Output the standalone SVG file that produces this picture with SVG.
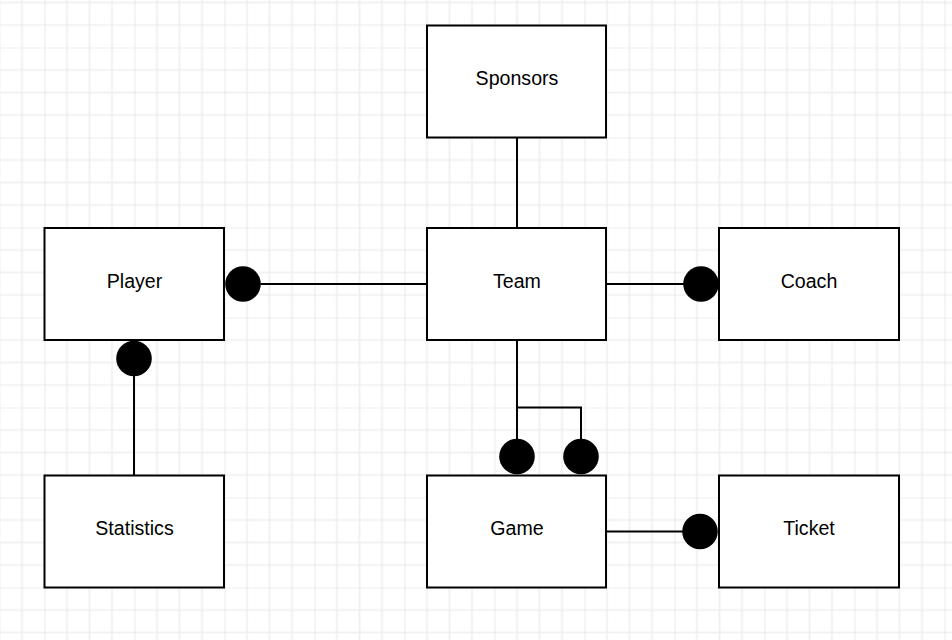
<svg xmlns="http://www.w3.org/2000/svg" width="952" height="640" viewBox="0 0 952 640">
<defs>
<pattern id="grid" patternUnits="userSpaceOnUse" x="44.5" y="47.5" width="90" height="90">
<path d="M22.5 0V90M45 0V90M67.5 0V90M0 22.5H90M0 45H90M0 67.5H90" stroke="#eeeeee" stroke-width="1.6" fill="none"/>
<path d="M0 0V90M0 0H90" stroke="#dddddd" stroke-width="1.2" fill="none"/>
</pattern>
<style>
.box{fill:#fff;stroke:#000;stroke-width:2}
.lbl{font-family:"Liberation Sans",Arial,sans-serif;font-size:19.6px;fill:#000;text-anchor:middle}
.ln{fill:none;stroke:#000;stroke-width:2}
.dot{fill:#000}
</style>
</defs>
<rect width="952" height="640" fill="#fff"/>
<rect width="952" height="640" fill="url(#grid)"/>
<g id="connectors">
<path class="ln" d="M517 137V228"/>
<path class="ln" d="M260.5 284H427"/>
<circle class="dot" cx="243" cy="284" r="17.8"/>
<path class="ln" d="M606 284H701"/>
<circle class="dot" cx="701" cy="284" r="17.8"/>
<path class="ln" d="M134 340V475"/>
<circle class="dot" cx="134" cy="358.5" r="17.8"/>
<path class="ln" d="M517 340V456M517 407.5H581V456"/>
<circle class="dot" cx="517" cy="456.5" r="17.8"/>
<circle class="dot" cx="581" cy="456.5" r="17.8"/>
<path class="ln" d="M606 531.5H701"/>
<circle class="dot" cx="700" cy="531.5" r="17.8"/>
</g>
<g id="sponsors"><rect class="box" x="427" y="25.5" width="179" height="112"/><text class="lbl" x="517" y="85">Sponsors</text></g>
<g id="player"><rect class="box" x="44.5" y="228" width="179.5" height="112"/><text class="lbl" x="134.5" y="287.5">Player</text></g>
<g id="team"><rect class="box" x="427" y="228" width="179" height="112"/><text class="lbl" x="517" y="287.5">Team</text></g>
<g id="coach"><rect class="box" x="719" y="228" width="180" height="112"/><text class="lbl" x="809" y="287.5">Coach</text></g>
<g id="statistics"><rect class="box" x="44.5" y="475.5" width="179.5" height="112"/><text class="lbl" x="134.5" y="535">Statistics</text></g>
<g id="game"><rect class="box" x="427" y="475.5" width="179" height="112"/><text class="lbl" x="517" y="535">Game</text></g>
<g id="ticket"><rect class="box" x="719" y="475.5" width="180" height="112"/><text class="lbl" x="809" y="535">Ticket</text></g>
</svg>
